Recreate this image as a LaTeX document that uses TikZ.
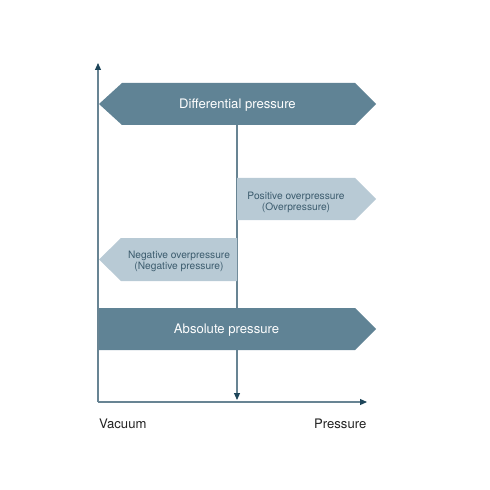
\documentclass[tikz,border=0pt]{standalone}
\usepackage{fontspec}
\setmainfont{TeX Gyre Heros}
\usetikzlibrary{arrows.meta}
\definecolor{banddark}{RGB}{96,131,149}
\definecolor{bandlight}{RGB}{184,202,213}
\definecolor{axisline}{RGB}{104,132,147}
\definecolor{tipcol}{RGB}{30,70,90}
\definecolor{lighttext}{RGB}{60,92,110}
\definecolor{labeltext}{RGB}{35,35,35}
\tikzset{
  axisarrow/.style={draw=axisline, line width=1.1bp, -{Triangle[length=7bp,width=6bp,color=tipcol]}},
  darkband/.style={fill=banddark, draw=none},
  lightband/.style={fill=bandlight, draw=none},
  bigtext/.style={text=white, font=\fontsize{13.1bp}{15bp}\selectfont, inner sep=0pt},
  smalltext/.style={text=lighttext, font=\fontsize{10.2bp}{11.3bp}\selectfont, align=center, inner sep=0pt},
  axislabel/.style={text=labeltext, font=\fontsize{13.1bp}{15bp}\selectfont, inner sep=0pt},
}
\begin{document}
\begin{tikzpicture}[x=1bp,y=-1bp]
\useasboundingbox (0,0) rectangle (490,490);
\coordinate (origin) at (98,402);
\coordinate (ytip) at (98,63);
\coordinate (xtip) at (367,402);
\coordinate (midtop) at (237,125);
\coordinate (midtip) at (237,400);
% middle arrow (behind bands)
\draw[axisarrow] (midtop) -- (midtip);
% Differential pressure band
\fill[darkband] (99,104) -- (122,83) -- (355,83) -- (376,104) -- (355,125) -- (122,125) -- cycle;
\node[bigtext] (diff) at (237.5,105.5) {Differential pressure};
% Positive overpressure band
\fill[lightband] (237,178) -- (355,178) -- (376,199) -- (355,220) -- (237,220) -- cycle;
\node[smalltext] (pos) at (296,202.5) {Positive overpressure\\(Overpressure)};
% Negative overpressure band
\fill[lightband] (99,259.5) -- (121,238) -- (237,238) -- (237,281) -- (121,281) -- cycle;
\node[smalltext] (neg) at (179,261.5) {Negative overpressure\\(Negative pressure)};
% Absolute pressure band
\fill[darkband] (98,308) -- (355,308) -- (376,329) -- (355,350) -- (98,350) -- cycle;
\node[bigtext] (abs) at (226.5,330.5) {Absolute pressure};
% axes
\draw[axisarrow] (origin) -- (ytip);
\draw[axisarrow] (origin) -- (xtip);
\node[axislabel, anchor=west] (vac) at (99,424) {Vacuum};
\node[axislabel, anchor=east] (pres) at (366.5,424) {Pressure};
\end{tikzpicture}
\end{document}
